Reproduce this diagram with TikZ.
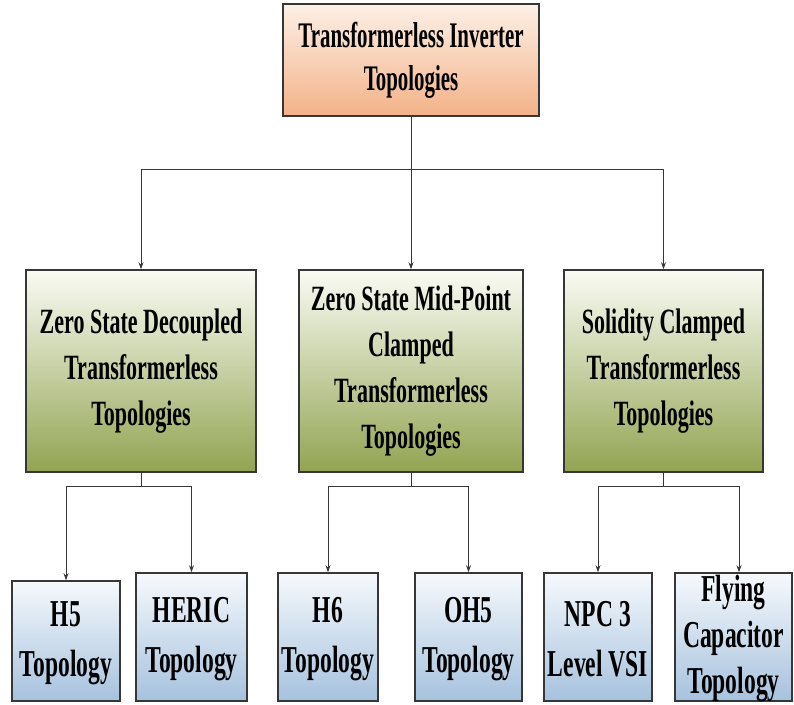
\documentclass[tikz,border=0pt]{standalone}
\usepackage{fontspec}
\newfontfamily\labfont{Liberation Serif}[FakeStretch=0.62]
\newfontfamily\toplabfont{Liberation Serif}[FakeStretch=0.58]
\usetikzlibrary{arrows.meta}
\definecolor{peachtop}{RGB}{253,240,230}
\definecolor{peachbot}{RGB}{243,178,136}
\definecolor{greentop}{RGB}{250,251,244}
\definecolor{greenbot}{RGB}{146,164,82}
\definecolor{bluetop}{RGB}{246,249,252}
\definecolor{bluebot}{RGB}{166,194,222}
\definecolor{edge}{RGB}{55,55,55}
\tikzset{
  box/.style={draw=edge, line width=1.6pt, inner sep=0pt, shading=axis},
  topbox/.style={box, top color=peachtop, bottom color=peachbot},
  midbox/.style={box, top color=greentop, bottom color=greenbot},
  botbox/.style={box, top color=bluetop, bottom color=bluebot},
  toptxt/.style={align=center, inner sep=0pt, font={\toplabfont\bfseries\fontsize{36}{43}\selectfont}},
  midtxt/.style={align=center, inner sep=0pt, font={\labfont\bfseries\fontsize{35.5}{46}\selectfont}},
  bottxt/.style={align=center, inner sep=0pt, font={\labfont\bfseries\fontsize{38}{50}\selectfont}},
  tighttxt/.style={align=center, inner sep=0pt, font={\labfont\bfseries\fontsize{38}{46}\selectfont}},
  conn/.style={draw=edge, line width=0.9pt, -{Stealth[length=7pt,width=5pt]}},
  plain/.style={draw=edge, line width=0.9pt}
}
\begin{document}
\begin{tikzpicture}[x=1pt,y=-1pt]
\useasboundingbox (0,0) rectangle (794,704);
% boxes
\node[topbox, minimum width=256pt, minimum height=112pt] (top) at (411,60) {};
\node[midbox, minimum width=230pt, minimum height=202pt] (m1) at (141,371) {};
\node[midbox, minimum width=224pt, minimum height=202pt] (m2) at (411,371) {};
\node[midbox, minimum width=199pt, minimum height=202pt] (m3) at (663.5,371) {};
\node[botbox, minimum width=108pt, minimum height=120pt] (b1) at (66,641) {};
\node[botbox, minimum width=111pt, minimum height=128pt] (b2) at (191.5,637) {};
\node[botbox, minimum width=100pt, minimum height=128pt] (b3) at (328,637) {};
\node[botbox, minimum width=107pt, minimum height=128pt] (b4) at (468.5,637) {};
\node[botbox, minimum width=108pt, minimum height=128pt] (b5) at (598,637) {};
\node[botbox, minimum width=117pt, minimum height=128pt] (b6) at (733.5,637) {};
% texts
\node[toptxt] (topt) at (top.center) {Transformerless Inverter\\Topologies};
\node[midtxt] (m1t) at (m1.center) {Zero State Decoupled\\Transformerless\\Topologies};
\node[midtxt] (m2t) at (m2.center) {Zero State Mid-Point\\Clamped\\Transformerless\\Topologies};
\node[midtxt] (m3t) at (m3.center) {Solidity Clamped\\Transformerless\\Topologies};
\node[bottxt] (b1t) at ([yshift=-2pt]b1.center) {H5\\Topology};
\node[bottxt] (b2t) at ([yshift=-2pt]b2.center) {HERIC\\Topology};
\node[bottxt] (b3t) at ([yshift=-2pt]b3.center) {H6\\Topology};
\node[bottxt] (b4t) at ([yshift=-2pt]b4.center) {OH5\\Topology};
\node[bottxt] (b5t) at ([yshift=-2pt]b5.center) {NPC 3\\Level VSI};
\node[tighttxt] (b6t) at ([yshift=-1pt]b6.center) {Flying\\Capacitor\\Topology};
% connectors
\coordinate (j0) at (411,169);
\draw[plain] (top.south) -- (j0);
\draw[conn] (j0) -| (m1.north);
\draw[conn] (j0) -| (m3.north);
\draw[conn] (j0) -- (m2.north);
\coordinate (j1) at (141,486);
\coordinate (j2) at (411,486);
\coordinate (j3) at (663.5,486);
\coordinate (c6) at (739,486);
\draw[plain] (m1.south) -- (j1);
\draw[plain] (m2.south) -- (j2);
\draw[plain] (m3.south) -- (j3);
\draw[conn] (j1) -| (b1.north);
\draw[conn] (j1) -| (b2.north);
\draw[conn] (j2) -| (b3.north);
\draw[conn] (j2) -| (b4.north);
\draw[conn] (j3) -| (b5.north);
\draw[plain] (j3) -- (c6);
\draw[conn] (c6) -- (c6 |- b6.north);
\end{tikzpicture}
\end{document}
